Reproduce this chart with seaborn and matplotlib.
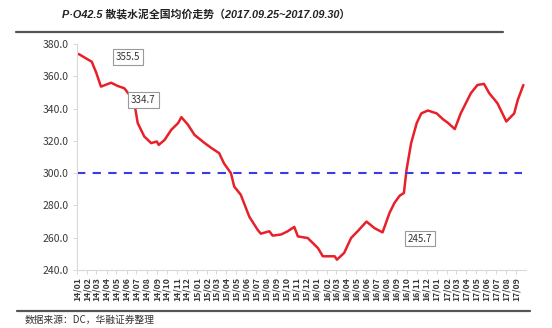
import matplotlib
matplotlib.use("Agg")
import matplotlib.pyplot as plt
import matplotlib.dates as mdates
import seaborn as sns
import pandas as pd

dates = ["2014-01-06", "2014-02-15", "2014-03-01", "2014-03-15", "2014-04-15", "2014-05-05",
         "2014-05-25", "2014-06-10", "2014-06-25", "2014-07-05", "2014-07-25", "2014-08-15",
         "2014-09-01", "2014-09-07", "2014-09-25", "2014-10-15", "2014-11-05", "2014-11-15",
         "2014-12-05", "2014-12-25", "2015-01-25", "2015-02-15", "2015-03-10", "2015-03-25",
         "2015-04-15", "2015-04-25", "2015-05-15", "2015-06-10", "2015-07-05", "2015-07-15",
         "2015-08-10", "2015-08-20", "2015-09-15", "2015-10-05", "2015-10-25", "2015-11-05",
         "2015-12-05", "2016-01-05", "2016-01-20", "2016-02-25", "2016-03-03", "2016-03-25",
         "2016-04-15", "2016-05-05", "2016-06-01", "2016-06-25", "2016-07-20", "2016-08-10",
         "2016-08-25", "2016-09-10", "2016-09-23", "2016-10-01", "2016-10-15", "2016-11-01",
         "2016-11-15", "2016-12-05", "2017-01-01", "2017-01-20", "2017-02-05", "2017-02-25",
         "2017-03-15", "2017-04-15", "2017-05-05", "2017-05-25", "2017-06-10", "2017-07-05",
         "2017-08-01", "2017-08-25", "2017-09-05", "2017-09-22"]
prices = [373.8, 369.0, 362.0, 353.6, 356.0, 354.0,
          352.6, 348.5, 343.0, 331.0, 322.7, 318.6,
          319.6, 317.5, 320.6, 326.8, 331.0, 334.7,
          330.0, 323.7, 318.6, 315.5, 312.4, 306.0,
          300.0, 291.7, 286.6, 273.0, 265.0, 262.5,
          264.0, 261.3, 262.0, 264.0, 266.7, 260.8,
          259.8, 253.6, 248.5, 248.5, 246.4, 250.6,
          259.8, 264.0, 270.0, 266.0, 263.3, 275.3,
          281.5, 286.0, 287.7, 302.0, 318.6, 331.0,
          337.0, 338.8, 337.0, 333.4, 331.0, 327.3,
          337.0, 349.5, 354.6, 355.3, 349.5, 343.3,
          332.0, 337.0, 345.4, 354.6]
reference_level = 300.0
annotations = ["355.5", "334.7", "245.7"]
annot_pos = [("2014-06-05", 372.0), ("2014-07-22", 345.5), ("2016-11-10", 259.5)]

title = "P·O42.5 散装水泥全国均价走势（2017.09.25~2017.09.30）"
source = "数据来源：DC，华融证券整理"

df = pd.DataFrame({"date": pd.to_datetime(dates), "price": prices})

sns.set_theme(style="white")
plt.rcParams['font.family'] = ['Noto Sans CJK SC', 'DejaVu Sans']

fig = plt.figure(figsize=(5.52, 3.28), dpi=100)
ax = fig.add_axes([77/552, 1-270/328, (526-77)/552, (270-44)/328])

sns.lineplot(data=df, x="date", y="price", ax=ax, color="#e8202a", linewidth=1.8)
ax.axhline(reference_level, xmin=0, xmax=0.99, color="#3a3ae6", linewidth=1.5,
           linestyle=(0, (4, 3.5)))

ax.set_ylim(240, 380)
ax.set_yticks([240, 260, 280, 300, 320, 340, 360, 380])
ax.yaxis.set_major_formatter(matplotlib.ticker.FormatStrFormatter("%.1f"))
ax.set_xlim(pd.Timestamp("2014-01-01"), pd.Timestamp("2017-09-30"))
ax.xaxis.set_major_locator(mdates.MonthLocator())
ax.xaxis.set_major_formatter(mdates.DateFormatter("%y/%m"))
ax.set_xlabel("")
ax.set_ylabel("")

for lab in ax.get_xticklabels():
    lab.set_rotation(90)
ax.tick_params(axis="x", labelsize=6.3, colors="#3a3a3a", length=3, width=0.6,
               pad=2, bottom=True, color="#d0d0d0")
ax.tick_params(axis="y", labelsize=7.5, colors="#3a3a3a", length=3, width=0.6,
               pad=3, left=True, color="#d0d0d0")
for lab in ax.get_xticklabels():
    lab.set_fontweight("bold")

for s in ["top", "right"]:
    ax.spines[s].set_visible(False)
for s in ["left", "bottom"]:
    ax.spines[s].set_color("#d9d9d9")
    ax.spines[s].set_linewidth(0.8)

for txt, (d, v) in zip(annotations, annot_pos):
    ax.text(pd.Timestamp(d), v, txt, fontsize=7, color="#333333", ha="center", va="center",
            bbox=dict(boxstyle="square,pad=0.3", facecolor="white", edgecolor="#999999",
                      linewidth=0.8))

fig.text(62/552, 1-14/328, title, fontsize=7.8, fontweight="bold", fontstyle="italic",
         family=['Liberation Sans', 'Noto Sans CJK SC'],
         color="#222222", va="center", ha="left")
fig.add_artist(matplotlib.lines.Line2D([16/552, 503/552], [1-32/328, 1-32/328],
                                       color="#555555", linewidth=1.6))
fig.add_artist(matplotlib.lines.Line2D([17/552, 530/552], [1-311/328, 1-311/328],
                                       color="#555555", linewidth=1.6))
fig.text(25/552, 1-320/328, source, fontsize=7, color="#333333", va="center", ha="left")

fig.savefig("out.png", dpi=100)
